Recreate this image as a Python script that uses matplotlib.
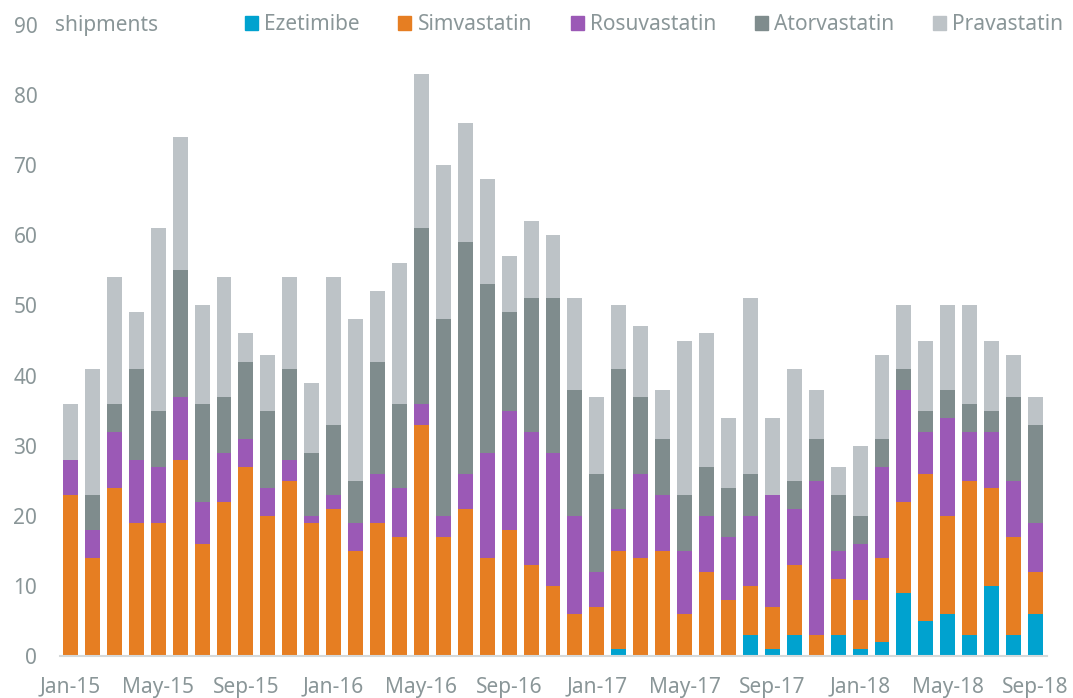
import numpy as np
import matplotlib.pyplot as plt
from matplotlib.patches import Patch

plt.rcParams['font.family'] = ['Noto Sans', 'DejaVu Sans']

# monthly labels Jan-15 .. Sep-18
months = ['Jan', 'Feb', 'Mar', 'Apr', 'May', 'Jun',
          'Jul', 'Aug', 'Sep', 'Oct', 'Nov', 'Dec']
labels = [f'{m}-{y}' for y in range(15, 19) for m in months][:45]

ezetimibe = [0, 0, 0, 0, 0, 0, 0, 0, 0, 0, 0, 0,
             0, 0, 0, 0, 0, 0, 0, 0, 0, 0, 0, 0,
             0, 1, 0, 0, 0, 0, 0, 3, 1, 3, 0, 3,
             1, 2, 9, 5, 6, 3, 10, 3, 6]
simvastatin = [23, 14, 24, 19, 19, 28, 16, 22, 27, 20, 25, 19,
               21, 15, 19, 17, 33, 17, 21, 14, 18, 13, 10, 6,
               7, 14, 14, 15, 6, 12, 8, 7, 6, 10, 3, 8,
               7, 12, 13, 21, 14, 22, 14, 14, 6]
rosuvastatin = [5, 4, 8, 9, 8, 9, 6, 7, 4, 4, 3, 1,
                2, 4, 7, 7, 3, 3, 5, 15, 17, 19, 19, 14,
                5, 6, 12, 8, 9, 8, 9, 10, 16, 8, 22, 4,
                8, 13, 16, 6, 14, 7, 8, 8, 7]
atorvastatin = [0, 5, 4, 13, 8, 18, 14, 8, 11, 11, 13, 9,
                10, 6, 16, 12, 25, 28, 33, 24, 14, 19, 22, 18,
                14, 20, 11, 8, 8, 7, 7, 6, 0, 4, 6, 8,
                4, 4, 3, 3, 4, 4, 3, 12, 14]
pravastatin = [8, 18, 18, 8, 26, 19, 14, 17, 4, 8, 13, 10,
               21, 23, 10, 20, 22, 22, 17, 15, 8, 11, 9, 13,
               11, 9, 10, 7, 22, 19, 10, 25, 11, 16, 7, 4,
               10, 12, 9, 10, 12, 14, 10, 6, 4]

series = [('Ezetimibe', ezetimibe, '#00a2cf'),
          ('Simvastatin', simvastatin, '#e67e22'),
          ('Rosuvastatin', rosuvastatin, '#9b59b6'),
          ('Atorvastatin', atorvastatin, '#7f8c8d'),
          ('Pravastatin', pravastatin, '#bdc3c7')]

txt = '#8a9698'
fs = 15

fig = plt.figure(figsize=(10.73, 6.98), dpi=100)
ax = fig.add_axes([59.5 / 1073, 42 / 698, 987 / 1073, 631 / 698])

x = np.arange(len(labels))
bottom = np.zeros(len(labels))
for name, vals, col in series:
    vals = np.array(vals, dtype=float)
    ax.bar(x, vals, 0.68, bottom=bottom, color=col, label=name)
    bottom += vals

ax.set_xlim(-0.5, len(labels) - 0.5)
ax.set_ylim(0, 90)
ax.set_yticks(range(0, 91, 10))
ax.set_xticks(x[::4])
ax.set_xticklabels(labels[::4])
ax.tick_params(length=0, labelsize=fs, colors=txt)
ax.tick_params(axis='y', pad=16)
ax.tick_params(axis='x', pad=15)

for s in ['top', 'right', 'left']:
    ax.spines[s].set_visible(False)
ax.spines['bottom'].set_color('#d5d9da')
ax.spines['bottom'].set_linewidth(1.5)

ax.text(-4.5 / 987, 90, 'shipments', transform=ax.get_yaxis_transform(),
        ha='left', va='center', fontsize=fs, color=txt)

handles = [Patch(color=c, label=n) for n, v, c in series]
leg = fig.legend(handles=handles, loc='center right',
                 bbox_to_anchor=(1063 / 1073, 1 - 25 / 698), ncol=5,
                 frameon=False, fontsize=fs, handlelength=0.62,
                 handleheight=0.62, handletextpad=0.3, columnspacing=1.85,
                 borderaxespad=0, borderpad=0)
for t in leg.get_texts():
    t.set_color(txt)

fig.savefig('out.png', dpi=100)
